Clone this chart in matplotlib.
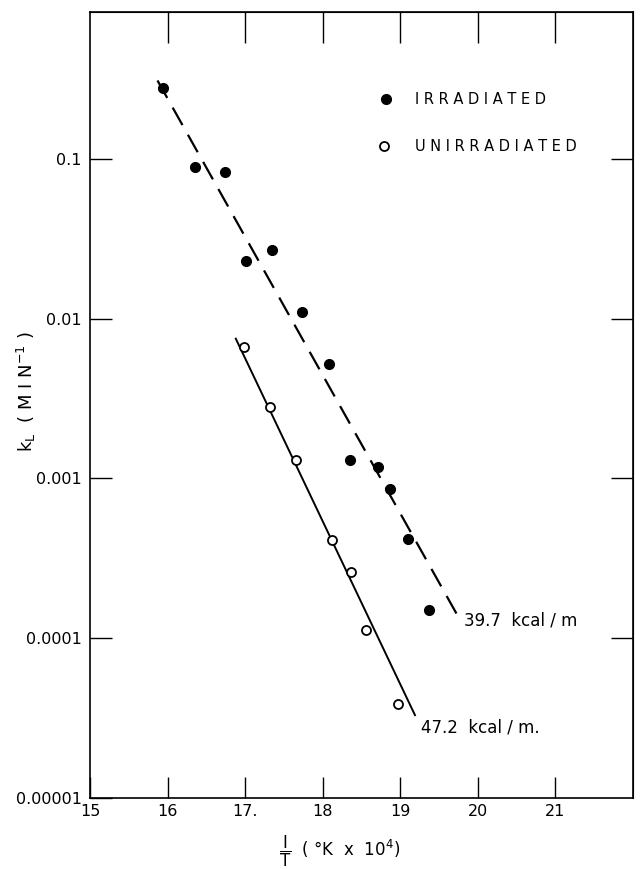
import matplotlib
matplotlib.use('Agg')
import matplotlib.pyplot as plt

# irradiated samples (filled dots)
irr_x = [15.94, 16.35, 16.74, 17.01, 17.35, 17.73, 18.08, 18.35, 18.71, 18.87, 19.10, 19.37]
irr_k = [0.28, 0.089, 0.083, 0.023, 0.027, 0.011, 0.0052, 0.0013, 0.00118, 0.00086, 0.00042, 0.00015]

# unirradiated samples (open circles)
unirr_x = [16.99, 17.32, 17.65, 18.12, 18.36, 18.56, 18.97]
unirr_k = [0.0067, 0.0028, 0.0013, 0.00041, 0.00026, 0.000112, 0.000039]

# fitted lines (end points)
fit_irr_x = [15.87, 19.76]
fit_irr_k = [0.31, 0.000133]
fit_unirr_x = [16.88, 19.19]
fit_unirr_k = [0.0075, 0.000033]

xticks = [15, 16, 17, 18, 19, 20, 21]
xlabels = ['15', '16', '17.', '18', '19', '20', '21']
yticks = [1e-5, 1e-4, 1e-3, 1e-2, 1e-1]
ylabels = ['0.00001', '0.0001', '0.001', '0.01', '0.1']

fig = plt.figure(figsize=(6.4, 8.69), dpi=100)
ax = fig.add_axes([0.1406, 0.0817, 0.8484, 0.9043])
ax.set_yscale('log')
ax.set_xlim(15, 22)
ax.set_ylim(1e-5, 0.83)

ax.plot(fit_irr_x, fit_irr_k, color='black', lw=1.6, dashes=(9, 5))
ax.plot(fit_unirr_x, fit_unirr_k, color='black', lw=1.4)
ax.plot(irr_x, irr_k, 'o', color='black', ms=7)
ax.plot(unirr_x, unirr_k, 'o', mfc='white', mec='black', mew=1.3, ms=6.5)

ax.set_xticks(xticks)
ax.set_xticklabels(xlabels, fontsize=11.5)
ax.set_yticks(yticks)
ax.set_yticklabels(ylabels, fontsize=11.5)
ax.minorticks_off()
ax.tick_params(axis='x', direction='in', length=15, width=1, pad=4)
ax.tick_params(axis='y', direction='in', length=16, width=1, pad=6)
for s in ax.spines.values():
    s.set_linewidth(1.2)

top = ax.secondary_xaxis('top')
top.set_xticks(xticks[1:])
top.tick_params(direction='in', length=22, width=1, labeltop=False)
right = ax.secondary_yaxis('right')
right.set_yticks(yticks[1:])
right.tick_params(direction='in', length=16, width=1, labelright=False)
right.minorticks_off()

# legend drawn by hand like the original
ax.plot([15 + (388 - 90) / 78], [10 ** (-1 + (159 - 99) / 160)], 'o', color='black', ms=7)
ax.plot([15 + (386 - 90) / 78], [10 ** (-1 + (159 - 146) / 160)], 'o', mfc='white', mec='black', mew=1.3, ms=6.5)
ax.text(15 + (417 - 90) / 78, 10 ** (-1 + (159 - 99) / 160), 'I R R A D I A T E D',
        fontsize=10.5, va='center', ha='left')
ax.text(15 + (417 - 90) / 78, 10 ** (-1 + (159 - 146) / 160), 'U N I R R A D I A T E D',
        fontsize=10.5, va='center', ha='left')

ax.text(19.82, 1.3e-4, '39.7  kcal / m', fontsize=12, va='center', ha='left')
ax.text(19.27, 2.75e-5, '47.2  kcal / m.', fontsize=12, va='center', ha='left')

fig.text(0.042, 0.549, r'k$_{\rm L}$  ( M I N$^{-1}$ )', rotation=90, fontsize=13,
         ha='center', va='center')
fig.text(0.53, 0.02, r'$\dfrac{\rm I}{\rm T}$  ( °K  x  10$^{4}$)', fontsize=12,
         ha='center', va='center')

fig.savefig('out.png', dpi=100)
